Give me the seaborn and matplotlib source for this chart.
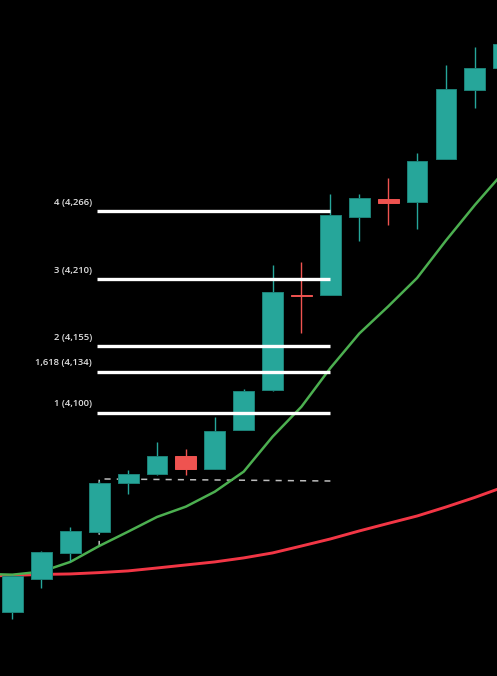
import numpy as np
import pandas as pd
import matplotlib
matplotlib.use("Agg")
import matplotlib.pyplot as plt
import seaborn as sns

# ---- data ----
idx = list(range(18))
opens  = [3936.5, 3963.4, 3984.8, 4002.1, 4042.6, 4050.0, 4064.6, 4053.9, 4086.0, 4118.9,
          4197.5, 4197.1, 4261.6, 4276.1, 4273.9, 4309.1, 4366.1, 4384.2]
closes = [3966.1, 3985.6, 4002.9, 4042.4, 4049.5, 4064.6, 4053.9, 4085.2, 4118.1, 4199.6,
          4196.3, 4263.0, 4277.0, 4273.1, 4307.4, 4366.7, 4384.0, 4403.7]
highs  = [3966.8, 3986.0, 4006.2, 4044.0, 4053.1, 4076.1, 4070.4, 4096.7, 4119.8, 4221.8,
          4224.5, 4280.2, 4280.2, 4293.4, 4314.0, 4386.0, 4401.5, 4407.0]
lows   = [3930.5, 3956.0, 3978.2, 4001.5, 4033.3, 4049.0, 4049.0, 4053.9, 4086.0, 4118.1,
          4166.1, 4197.0, 4241.6, 4254.7, 4251.4, 4309.0, 4351.3, 4384.0]

ma_idx = list(range(-1, 18))
ma_fast = [3967.5, 3966.9, 3969.4, 3977.4, 3990.5, 4002.3, 4014.4, 4022.9, 4035.2, 4051.7,
           4080.5, 4105.2, 4137.0, 4165.4, 4187.7, 4211.1, 4242.0, 4271.2, 4298.4]
ma_slow = [3965.8, 3966.3, 3967.1, 3967.5, 3968.6, 3970.0, 3972.4, 3974.9, 3977.4, 3980.7,
           3984.8, 3990.5, 3996.3, 4002.9, 4009.1, 4015.2, 4022.6, 4030.5, 4039.1]

fib_ratios = ["4", "3", "2", "1,618", "1"]
fib_levels = [4266, 4210, 4155, 4134, 4100]

# dashed anchor drawing (candle index, price)
dash_x = [3, 3, 11]
dash_y = [3989.7, 4045.7, 4044.0]

# ---- styling ----
BG = "#000000"
UP = "#26a69a"
DOWN = "#ef5350"
sns.set_style("dark", {"axes.facecolor": BG, "figure.facecolor": BG})
plt.rcParams['font.family'] = ['Open Sans', 'DejaVu Sans']

fig = plt.figure(figsize=(4.97, 6.76), dpi=100)
ax = fig.add_axes([0, 0, 1, 1])
ax.set_facecolor(BG)

# moving averages via seaborn
df_ma = pd.DataFrame({"i": ma_idx, "fast": ma_fast, "slow": ma_slow})
sns.lineplot(data=df_ma, x="i", y="slow", ax=ax, color="#f23645", linewidth=2.1, zorder=2)
sns.lineplot(data=df_ma, x="i", y="fast", ax=ax, color="#4caf50", linewidth=1.8, zorder=2)

# dashed anchor
ax.plot(dash_x, dash_y, color="#bdbdbd", linewidth=1.1, linestyle=(0, (4, 4)), zorder=1)

# candles
o = np.array(opens); c = np.array(closes); h = np.array(highs); l = np.array(lows)
x = np.array(idx)
up = c >= o
cols = np.where(up, UP, DOWN)
ax.vlines(x, l, h, colors=cols, linewidth=1.0, zorder=3)
height = c - o
height = np.where(np.abs(height) < 1.2, np.sign(height + 1e-9) * 1.2, height)
ax.bar(x, height, bottom=o, width=0.72, color=cols, edgecolor=np.where(up, "#1d8278", DOWN),
       linewidth=0.7, zorder=4)

# fib levels
for r, lv in zip(fib_ratios, fib_levels):
    ax.hlines(lv, 2.93, 11.0, colors="white", linewidth=2.4, zorder=5)
    ax.annotate(f"{r} ({lv:,})", xy=(2.93, lv), xytext=(-5, 9), textcoords="offset pixels",
                ha="right", va="center", color="#e0e0e0", fontsize=6.8, fontweight="semibold",
                zorder=6)

ax.set_xlim(-0.4325, 16.765)
ax.set_ylim(3883.5, 4439.9)
ax.set_xlabel(""); ax.set_ylabel("")
ax.set_xticks([]); ax.set_yticks([])
for s in ax.spines.values():
    s.set_visible(False)
ax.grid(False)

fig.savefig("out.png", dpi=100, facecolor=BG)
